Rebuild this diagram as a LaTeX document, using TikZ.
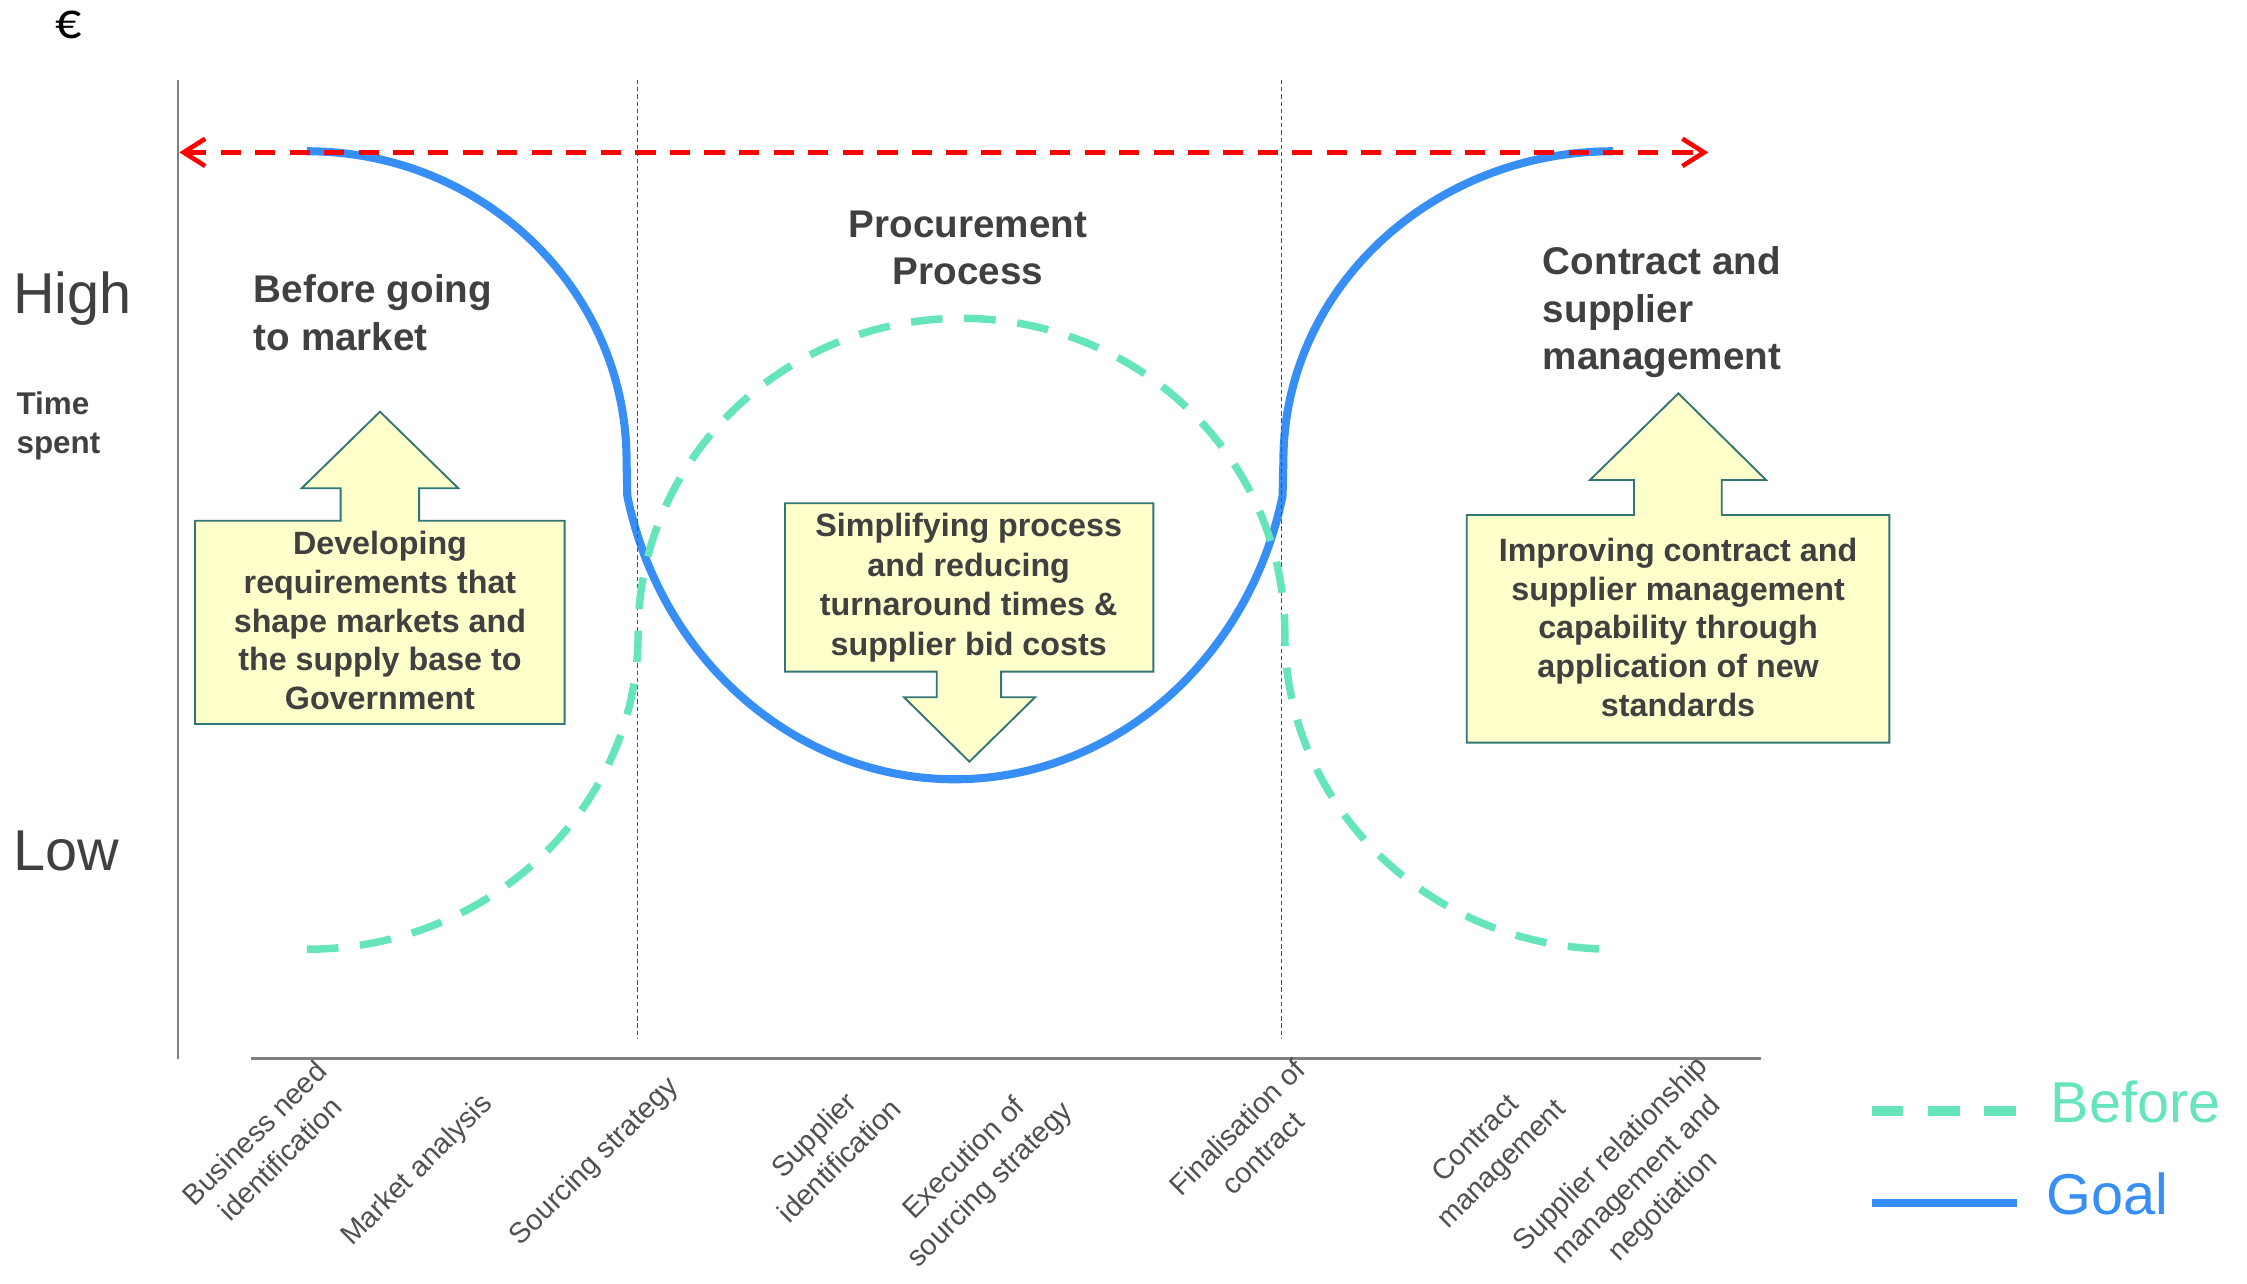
\documentclass[tikz,border=0pt]{standalone}
\usepackage{fontspec}
\setmainfont{Liberation Sans}
\newfontfamily\eurofont{Carlito}
\usetikzlibrary{arrows.meta}
\definecolor{goalblue}{RGB}{55,143,245}
\definecolor{beforegreen}{RGB}{102,229,189}
\definecolor{txtgray}{RGB}{64,64,64}
\definecolor{lblgray}{RGB}{80,80,80}
\definecolor{axisgray}{RGB}{128,128,128}
\definecolor{phasegray}{RGB}{80,80,80}
\definecolor{boxfill}{RGB}{255,255,204}
\definecolor{boxline}{RGB}{49,117,117}
\newcommand{\mlines}[2]{\begin{tabular}[t]{@{}#1@{}}#2\end{tabular}}
\begin{document}
\begin{tikzpicture}[x=1pt,y=-1pt,
  every node/.style={inner sep=0pt,outer sep=0pt},
  heading/.style={font=\fontsize{26.8}{32.9}\selectfont\bfseries,text=txtgray},
  boxtext/.style={font=\fontsize{22.4}{26.8}\selectfont\bfseries,text=txtgray},
  axislbl/.style={font=\fontsize{20}{25.5}\selectfont,text=lblgray,rotate=45},
  levelfont/.style={font=\fontsize{40}{48}\selectfont,text=txtgray},
  goalline/.style={draw=goalblue,line width=5.6pt},
  beforeline/.style={draw=beforegreen,line width=5.2pt,dash pattern=on 22pt off 15pt},
  shapebox/.style={fill=boxfill,draw=boxline,line width=1.3pt,line join=miter},
  phaseline/.style={draw=phasegray,line width=0.9pt,dash pattern=on 3pt off 2pt},
  axisline/.style={draw=axisgray,line width=1.3pt},
  reddash/.style={draw=red,line width=3.2pt,dash pattern=on 14pt off 10pt,
     {Straight Barb[length=15pt,width=19pt]}-{Straight Barb[length=15pt,width=19pt]}}]
\useasboundingbox (0,0) rectangle (1560,891.4);

% axes
\coordinate (ytop) at (123.3,55.5);
\coordinate (ybot) at (123.3,735);
\coordinate (xl) at (174,735);
\coordinate (xr) at (1222.6,735);
\draw[axisline] (ytop) -- (ybot);
\draw[axisline,line width=2pt] (xl) -- (xr);

% boxes with arrows
\draw[shapebox] (135.4,361.5) -- (236.5,361.5) -- (236.5,339) -- (209.4,339) -- (263.8,285.8)
  -- (318.2,339) -- (291,339) -- (291,361.5) -- (392,361.5) -- (392,502.6) -- (135.4,502.6) -- cycle;
\draw[shapebox] (545,349.4) -- (800.7,349.4) -- (800.7,466.3) -- (695,466.3) -- (695,484.1)
  -- (718.6,484.1) -- (673,528.8) -- (627.6,484.1) -- (650.3,484.1) -- (650.3,466.3) -- (545,466.3) -- cycle;
\draw[shapebox] (1018.3,357.5) -- (1134.4,357.5) -- (1134.4,333.2) -- (1103.9,333.2) -- (1165.2,273.1)
  -- (1226.1,333.2) -- (1195.3,333.2) -- (1195.3,357.5) -- (1311.7,357.5) -- (1311.7,515.6) -- (1018.3,515.6) -- cycle;

% goal curve
\draw[goalline] (213,105) arc[start angle=-90,end angle=0,x radius=222,y radius=215]
  -- (435.5,344.3) arc[start angle=167.5,end angle=12.5,x radius=233,y radius=251]
  -- (891,320) arc[start angle=180,end angle=270,x radius=229,y radius=215];

% phase separators
\coordinate (p1t) at (442.6,55.5);
\coordinate (p1b) at (442.6,721);
\coordinate (p2t) at (889.8,55.5);
\coordinate (p2b) at (889.8,721);
\draw[phaseline] (p1t) -- (p1b);
\draw[phaseline] (p2t) -- (p2b);

% before curve
\draw[beforeline] (213,659) arc[start angle=90,end angle=0,x radius=230,y radius=219]
  arc[start angle=180,end angle=360,x radius=224.5,y radius=219]
  arc[start angle=180,end angle=90,x radius=228,y radius=219];

% red arrow
\coordinate (rl) at (124.5,105.8);
\coordinate (rr) at (1186,105.8);
\draw[reddash] (rl) -- (rr);

% texts
\node[anchor=base west,font=\eurofont\fontsize{36}{40}\selectfont] (euro) at (38.5,26.5) {€};
\node[levelfont,anchor=base west] (high) at (9.2,217.5) {High};
\node[levelfont,anchor=base west] (low) at (9.2,604) {Low};
\node[anchor=base west,font=\fontsize{21.8}{26.6}\selectfont\bfseries,text=txtgray] (time) at (11.5,288) {\mlines{l}{Time\\spent}};

\node[heading,anchor=base west] (h1) at (176.3,210.1) {\mlines{l}{Before going\\to market}};
\node[heading,anchor=base] (h2) at (672,164.8) {\mlines{c}{Procurement\\Process}};
\node[heading,anchor=base west] (h3) at (1071.2,190.9) {\mlines{l}{Contract and\\supplier\\management}};

\node[boxtext,anchor=base] (t1) at (263.8,385.3) {\mlines{c}{Developing\\requirements that\\shape markets and\\the supply base to\\Government}};
\node[boxtext,anchor=base,font=\fontsize{22.4}{27.4}\selectfont\bfseries] (t2) at (672.5,372.6) {\mlines{c}{Simplifying process\\and reducing\\turnaround times \&\\supplier bid costs}};
\node[boxtext,anchor=base] (t3) at (1165,390) {\mlines{c}{Improving contract and\\supplier management\\capability through\\application of new\\standards}};

% axis labels
\node[axislbl] (s1) at (187,797) {\mlines{c}{Business need\\identification}};
\node[axislbl] (s2) at (290,813) {\mlines{c}{Market analysis}};
\node[axislbl] (s3) at (413,807) {\mlines{c}{Sourcing strategy}};
\node[axislbl] (s4) at (575,798) {\mlines{c}{Supplier\\identification}};
\node[axislbl] (s5) at (679,814) {\mlines{c}{Execution of\\sourcing strategy}};
\node[axislbl] (s6) at (869,793) {\mlines{c}{Finalisation of\\contract}};
\node[axislbl] (s7) at (1034,800) {\mlines{c}{Contract\\management}};
\node[axislbl] (s8) at (1137,820) {\mlines{c}{Supplier relationship\\management and\\negotiation}};

% legend
\coordinate (lb1) at (1299.4,771);
\coordinate (lb2) at (1400,771);
\coordinate (lg1) at (1299.4,835.4);
\coordinate (lg2) at (1400,835.4);
\draw[draw=beforegreen,line width=6.9pt,dash pattern=on 22pt off 17pt] (lb1) -- (lb2);
\draw[draw=goalblue,line width=5.8pt] (lg1) -- (lg2);
\node[levelfont,text=beforegreen,anchor=base west] (lbt) at (1423.7,779.4) {Before};
\node[levelfont,text=goalblue,anchor=base west] (lgt) at (1420.6,843.5) {Goal};
\end{tikzpicture}
\end{document}
